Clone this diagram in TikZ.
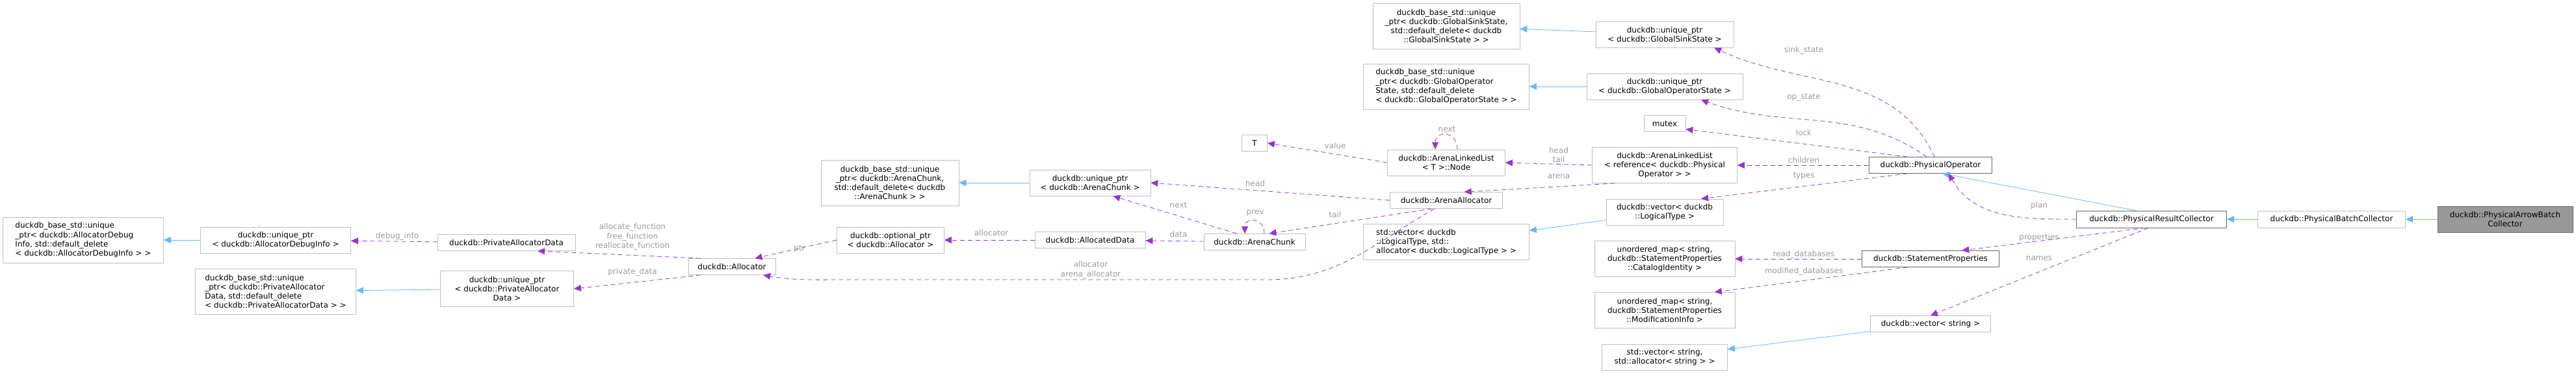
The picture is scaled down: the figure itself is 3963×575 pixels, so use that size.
\documentclass[tikz,border=0pt]{standalone}
\usepackage{fontspec}
\setmainfont{DejaVu Sans}
\usepackage{tikz}
\usetikzlibrary{arrows.meta}
\definecolor{edgeblue}{HTML}{63B8FF}
\definecolor{edgepurple}{HTML}{9A32CD}
\definecolor{boxgray}{HTML}{BFBFBF}
\definecolor{boxdark}{HTML}{666666}
\definecolor{lblgray}{HTML}{9A9A9A}
\tikzset{
	cls/.style={draw=boxgray, thick, fill=white, inner sep=2pt, align=center, font=\fontsize{12}{14.3}\selectfont},
	clsl/.style={cls, align=left},
	clsdark/.style={cls, draw=boxdark},
	inh/.style={draw=edgeblue, thick, -{Triangle[length=11pt,width=10pt]}},
	use/.style={draw=edgepurple, thick, dashed, dash pattern=on 7pt off 5pt, -{Triangle[length=11pt,width=10pt]}},
	lbl/.style={text=lblgray, align=center, font=\fontsize{12}{14.3}\selectfont}
}

\begin{document}
\begin{tikzpicture}[x=1pt,y=-1pt]
	\useasboundingbox (0,0) rectangle (3963,575);

	% allocator side
	\node[clsl, minimum width=247, minimum height=70] (baseDebug) at (128,369) {duckdb\_base\_std::unique\\\_ptr< duckdb::AllocatorDebug\\Info, std::default\_delete\\< duckdb::AllocatorDebugInfo > >};
	\node[cls, minimum width=231, minimum height=40] (uDebug) at (424,369) {duckdb::unique\_ptr\\< duckdb::AllocatorDebugInfo >};
	\node[clsl, minimum width=247, minimum height=70] (basePriv) at (424,448) {duckdb\_base\_std::unique\\\_ptr< duckdb::PrivateAllocator\\Data, std::default\_delete\\< duckdb::PrivateAllocatorData > >};
	\node[cls, minimum width=212, minimum height=25] (privData) at (779,373) {duckdb::PrivateAllocatorData};
	\node[cls, minimum width=205, minimum height=55] (uPriv) at (780,444) {duckdb::unique\_ptr\\< duckdb::PrivateAllocator\\Data >};
	\node[cls, minimum width=134, minimum height=25] (alloc) at (1126,410) {duckdb::Allocator};
	\node[cls, minimum width=165, minimum height=40] (optPtr) at (1370,369) {duckdb::optional\_ptr\\< duckdb::Allocator >};
	\node[cls, minimum width=212, minimum height=70] (baseChunk) at (1369,281) {duckdb\_base\_std::unique\\\_ptr< duckdb::ArenaChunk,\\ std::default\_delete< duckdb\\::ArenaChunk > >};
	\node[cls, minimum width=186, minimum height=40] (uChunk) at (1677,281) {duckdb::unique\_ptr\\< duckdb::ArenaChunk >};
	\node[cls, minimum width=170, minimum height=25] (allocData) at (1677,369) {duckdb::AllocatedData};
	\node[cls, minimum width=156, minimum height=25] (chunk) at (1930,372) {duckdb::ArenaChunk};
	\node[cls, minimum width=39, minimum height=25] (tNode) at (1930,220) {T};
	\node[cls, minimum width=181, minimum height=40] (listNode) at (2225,250) {duckdb::ArenaLinkedList\\< T >::Node};
	\node[cls, minimum width=173, minimum height=25] (arenaAlloc) at (2225,308) {duckdb::ArenaAllocator};

	% operator side
	\node[cls, minimum width=226, minimum height=70] (baseSink) at (2225,40) {duckdb\_base\_std::unique\\\_ptr< duckdb::GlobalSinkState,\\ std::default\_delete< duckdb\\::GlobalSinkState > >};
	\node[clsl, minimum width=255, minimum height=70] (baseOpState) at (2225,133) {duckdb\_base\_std::unique\\\_ptr< duckdb::GlobalOperator\\State, std::default\_delete\\< duckdb::GlobalOperatorState > >};
	\node[clsl, minimum width=255, minimum height=55] (stdVecLT) at (2225,372) {std::vector< duckdb\\::LogicalType, std::\\allocator< duckdb::LogicalType > >};
	\node[cls, minimum width=212, minimum height=40] (uSink) at (2561,53) {duckdb::unique\_ptr\\< duckdb::GlobalSinkState >};
	\node[cls, minimum width=240, minimum height=40] (uOpState) at (2561,133) {duckdb::unique\_ptr\\< duckdb::GlobalOperatorState >};
	\node[cls, minimum width=64, minimum height=25] (mutex) at (2561,190) {mutex};
	\node[cls, minimum width=223, minimum height=55] (linkedRef) at (2561,254) {duckdb::ArenaLinkedList\\< reference< duckdb::Physical\\Operator > >};
	\node[cls, minimum width=180, minimum height=40] (vecLT) at (2561,326) {duckdb::vector< duckdb\\::LogicalType >};
	\node[cls, minimum width=216, minimum height=55] (catId) at (2561,398) {unordered\_map< string,\\ duckdb::StatementProperties\\::CatalogIdentity >};
	\node[cls, minimum width=216, minimum height=55] (modInfo) at (2561,477) {unordered\_map< string,\\ duckdb::StatementProperties\\::ModificationInfo >};
	\node[cls, minimum width=193, minimum height=40] (stdVecStr) at (2561,549) {std::vector< string,\\ std::allocator< string > >};
	\node[clsdark, minimum width=189, minimum height=25] (physOp) at (2970,254) {duckdb::PhysicalOperator};
	\node[clsdark, minimum width=211, minimum height=25] (stmtProps) at (2970,398) {duckdb::StatementProperties};
	\node[cls, minimum width=185, minimum height=25] (vecStr) at (2970,498) {duckdb::vector< string >};
	\node[clsdark, minimum width=231, minimum height=26] (resColl) at (3310,337) {duckdb::PhysicalResultCollector};
	\node[cls, minimum width=227, minimum height=26] (batchColl) at (3587,337) {duckdb::PhysicalBatchCollector};
	\node[cls, draw=boxdark, fill=black!40, minimum width=208, minimum height=40] (arrowColl) at (3854,337) {duckdb::PhysicalArrowBatch\\Collector};

	% inheritance
	\draw[inh] (uDebug) -- (baseDebug);
	\draw[inh] (uPriv) -- (basePriv);
	\draw[inh] (uChunk) -- (baseChunk);
	\draw[inh] (uSink) -- (baseSink);
	\draw[inh] (uOpState) -- (baseOpState);
	\draw[inh] (vecLT) -- (stdVecLT);
	\draw[inh] (vecStr) -- (stdVecStr);
	\draw[inh] ([xshift=-25pt]resColl.north) -- (physOp.-35);
	\draw[inh] (batchColl) -- (resColl);
	\draw[inh] (arrowColl) -- (batchColl);

	% members
	\draw[use] (privData) -- (uDebug) node[lbl] at (611,363) {debug\_info};
	\draw[use] (alloc.165) -- (privData.345) node[lbl] at (973,364) {allocate\_function\\free\_function\\reallocate\_function};
	\draw[use] (alloc.195) -- (uPriv.east) node[lbl] at (973,418) {private\_data};
	\draw[use] (optPtr.west) -- (alloc.20) node[lbl] at (1230,383) {ptr};
	\draw[use] (allocData) -- (optPtr) node[lbl] at (1525,358) {allocator};
	\draw[use] (chunk) -- (allocData) node[lbl] at (1813,360) {data};
	\draw[use] (chunk.155) -- (uChunk.-30) node[lbl] at (1813,315) {next};
	\draw[use] ([xshift=15pt]chunk.north) to[out=90,in=90,looseness=2.2] ([xshift=-15pt]chunk.north) node[lbl] at (1931,327) {prev};
	\draw[use] (arenaAlloc.west) -- (uChunk.east) node[lbl] at (1931,282) {head};
	\draw[use] (arenaAlloc.210) -- (chunk.30) node[lbl] at (2054,330) {tail};
	\coordinate (allocBend) at (1948,430);
	\coordinate (allocRun) at (1300,430);
	\draw[use] (arenaAlloc.215) to[out=-150,in=0] (allocBend) -- (allocRun) to[out=180,in=-10] (alloc.-15) node[lbl] at (1678,415) {allocator\\arena\_allocator};
	\draw[use] (listNode.west) -- (tNode.east) node[lbl] at (2054,224) {value};
	\draw[use] ([xshift=17pt]listNode.north) to[out=90,in=90,looseness=2.2] ([xshift=-17pt]listNode.north) node[lbl] at (2226,198) {next};
	\draw[use] (linkedRef.west) -- (listNode.east) node[lbl] at (2398,238) {head\\tail};
	\draw[use] (linkedRef.200) -- (arenaAlloc.25) node[lbl] at (2398,271) {arena};
	\draw[use] (physOp.65) to[out=115,in=-25] (uSink.-15) node[lbl] at (2775,77) {sink\_state};
	\draw[use] (physOp.115) to[out=145,in=-20] (uOpState.-20) node[lbl] at (2775,150) {op\_state};
	\draw[use] (physOp.160) -- (mutex.-15) node[lbl] at (2775,204) {lock};
	\draw[use] (physOp) -- (linkedRef) node[lbl] at (2775,246) {children};
	\draw[use] (physOp.200) -- (vecLT.20) node[lbl] at (2775,271) {types};
	\draw[use] (resColl.west) to[out=180,in=-60] (physOp.-25) node[lbl] at (3137,316) {plan};
	\draw[use] (resColl.-125) -- (stmtProps.15) node[lbl] at (3137,365) {properties};
	\draw[use] (resColl.-110) -- (vecStr.north) node[lbl] at (3137,397) {names};
	\draw[use] (stmtProps) -- (catId) node[lbl] at (2775,391) {read\_databases};
	\draw[use] (stmtProps.200) -- (modInfo.20) node[lbl] at (2775,417) {modified\_databases};
\end{tikzpicture}
\end{document}
